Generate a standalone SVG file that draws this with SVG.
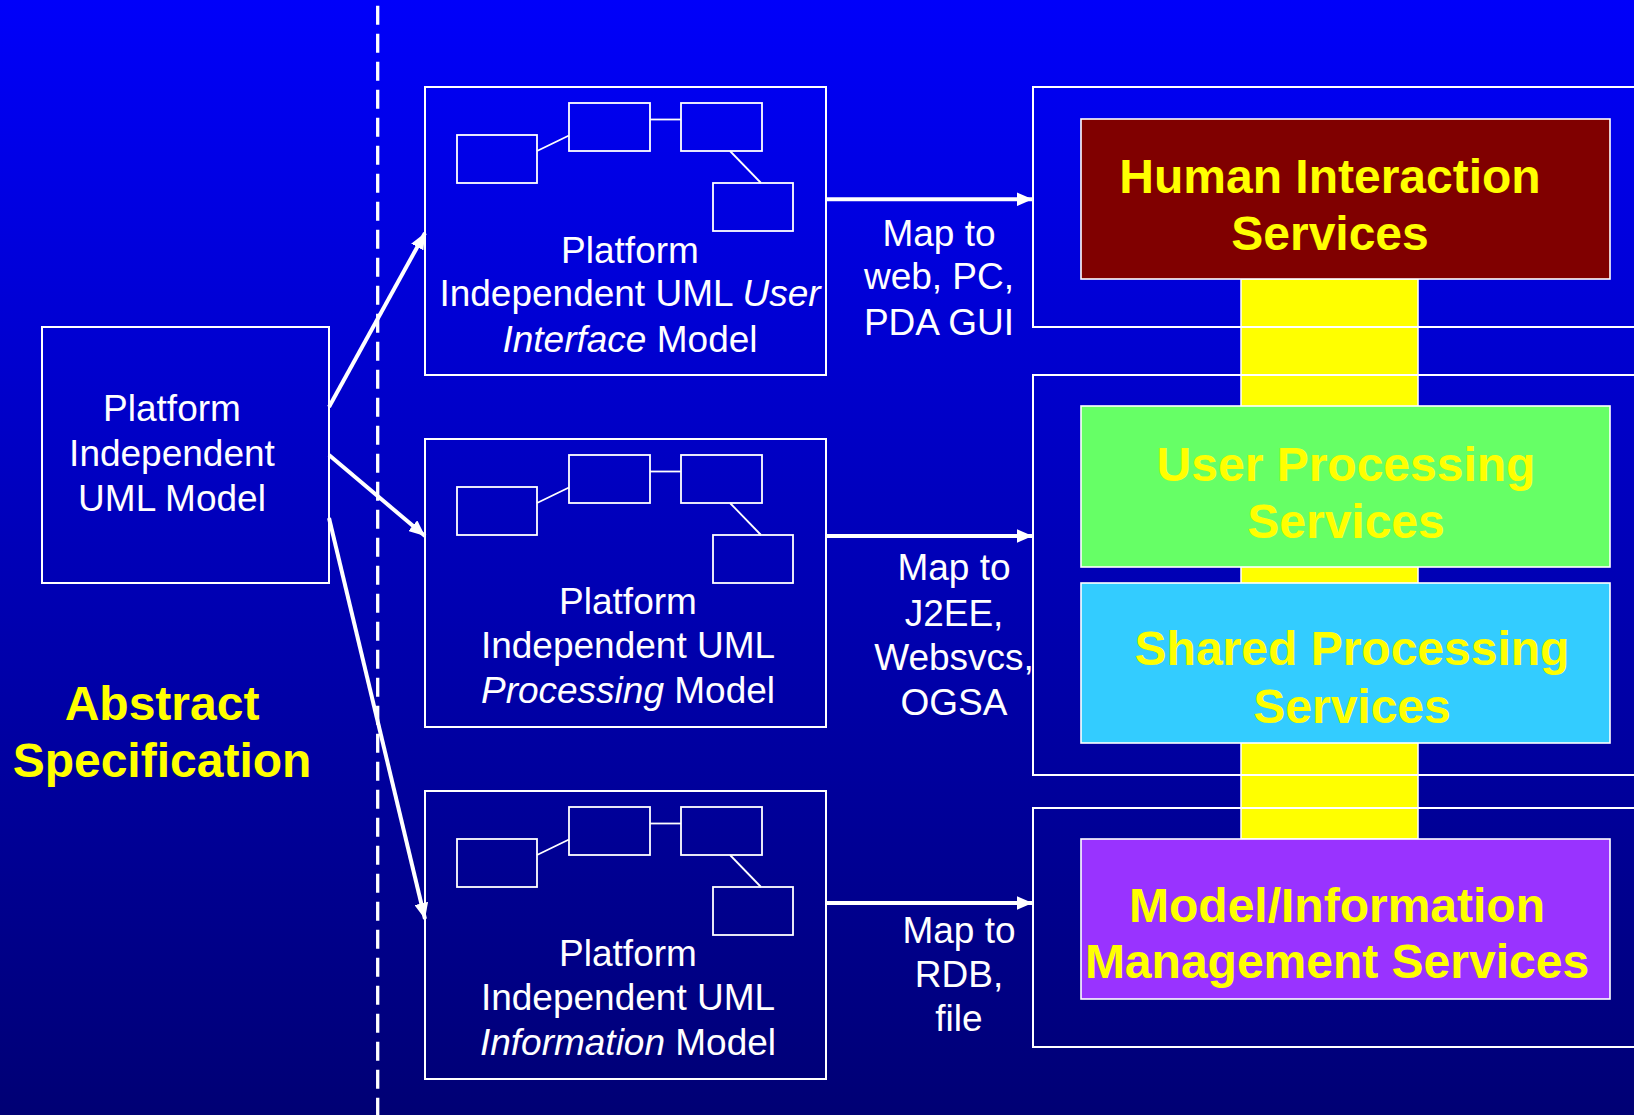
<svg xmlns="http://www.w3.org/2000/svg" xmlns:xlink="http://www.w3.org/1999/xlink" width="1634" height="1115" viewBox="0 0 1634 1115">
<defs>
<linearGradient id="bg" x1="0" y1="0" x2="0" y2="1">
<stop offset="0" stop-color="#0000FA"/>
<stop offset="1" stop-color="#000074"/>
</linearGradient>
<marker id="ah" markerUnits="userSpaceOnUse" markerWidth="16" markerHeight="14" refX="16" refY="7" orient="auto" viewBox="0 0 16 14">
<path d="M0,0 L16,7 L0,14 z" fill="#FFFFFF"/>
</marker>
<g id="mini">
<rect x="32" y="48" width="80" height="48"/>
<rect x="144" y="16" width="81" height="48"/>
<rect x="256" y="16" width="81" height="48"/>
<rect x="288" y="96" width="80" height="48"/>
<line x1="112" y1="64" x2="144" y2="48.5"/>
<line x1="225" y1="32.5" x2="256" y2="32.5"/>
<line x1="305" y1="64" x2="336" y2="96"/>
</g>
<style>
.box{fill:none;stroke:#FFFFFF;stroke-width:2}
#mini rect,#mini line{fill:none;stroke:#FFFFFF;stroke-width:1.8}
.wt{font-family:"Liberation Sans",Arial,sans-serif;font-size:37px;fill:#FFFFFF;text-anchor:middle}
.yt{font-family:"Liberation Sans",Arial,sans-serif;font-size:48px;font-weight:bold;fill:#FFFF00;text-anchor:middle}
.it{font-style:italic}
.arr{stroke:#FFFFFF;stroke-width:4;fill:none;marker-end:url(#ah)}
.svc{stroke:#FFFFFF;stroke-width:1.6}
</style>
</defs>
<rect x="0" y="0" width="1634" height="1115" fill="url(#bg)"/>
<line x1="377.7" y1="5.7" x2="377.7" y2="1115" stroke="#FFFFFF" stroke-width="3.3" stroke-dasharray="19 9"/>

<g id="yellow-bar">
<rect x="1241" y="279" width="177" height="560" fill="#FFFF00" stroke="#FFFFFF" stroke-width="1.5"/>
</g>

<g id="frame-top"><rect class="box" x="1033" y="87" width="640" height="240"/></g>
<g id="frame-mid"><rect class="box" x="1033" y="375" width="640" height="400"/></g>
<g id="frame-bot"><rect class="box" x="1033" y="808" width="640" height="239"/></g>

<g id="pim">
<rect class="box" x="42" y="327" width="287" height="256"/>
<text class="wt" x="172" y="421">Platform</text>
<text class="wt" x="172" y="466">Independent</text>
<text class="wt" x="172" y="511">UML Model</text>
</g>

<g id="abstract-spec">
<text class="yt" x="162" y="720">Abstract</text>
<text class="yt" x="162" y="776.5">Specification</text>
</g>

<g id="pim-ui">
<rect class="box" x="425" y="87" width="401" height="288"/>
<use href="#mini" xlink:href="#mini" x="425" y="87"/>
<text class="wt" x="630" y="262.5">Platform</text>
<text class="wt" x="630" y="305.5">Independent UML <tspan class="it">User</tspan></text>
<text class="wt" x="630" y="351.5"><tspan class="it">Interface</tspan> Model</text>
</g>

<g id="pim-proc">
<rect class="box" x="425" y="439" width="401" height="288"/>
<use href="#mini" xlink:href="#mini" x="425" y="439"/>
<text class="wt" x="628" y="613.5">Platform</text>
<text class="wt" x="628" y="657.5">Independent UML</text>
<text class="wt" x="628" y="703"><tspan class="it">Processing</tspan> Model</text>
</g>

<g id="pim-info">
<rect class="box" x="425" y="791" width="401" height="288"/>
<use href="#mini" xlink:href="#mini" x="425" y="791"/>
<text class="wt" x="628" y="966">Platform</text>
<text class="wt" x="628" y="1009.5">Independent UML</text>
<text class="wt" x="628" y="1055"><tspan class="it">Information</tspan> Model</text>
</g>

<g id="human-interaction">
<rect class="svc" x="1081" y="119" width="529" height="160" fill="#800000"/>
<text class="yt" x="1330" y="193">Human Interaction</text>
<text class="yt" x="1330" y="250">Services</text>
</g>

<g id="user-processing">
<rect class="svc" x="1081" y="406" width="529" height="161" fill="#66FF66"/>
<text class="yt" x="1346" y="480.5">User Processing</text>
<text class="yt" x="1346" y="537.5">Services</text>
</g>

<g id="shared-processing">
<rect class="svc" x="1081" y="583" width="529" height="160" fill="#33CCFF"/>
<text class="yt" x="1352" y="665">Shared Processing</text>
<text class="yt" x="1352" y="723">Services</text>
</g>

<g id="model-info">
<rect class="svc" x="1081" y="839" width="529" height="160" fill="#9933FF"/>
<text class="yt" x="1337" y="921.5">Model/Information</text>
<text class="yt" x="1337" y="978">Management Services</text>
</g>

<g id="connectors">
<line class="arr" x1="329" y1="407" x2="425" y2="233"/>
<line class="arr" x1="329" y1="455" x2="425" y2="536"/>
<line class="arr" x1="329" y1="518" x2="425" y2="919"/>
<line class="arr" x1="826" y1="199.3" x2="1032.5" y2="199.3"/>
<line class="arr" x1="826" y1="536" x2="1032.5" y2="536"/>
<line class="arr" x1="826" y1="903" x2="1032.5" y2="903"/>
</g>

<g id="labels">
<text class="wt" x="939" y="245.7">Map to</text>
<text class="wt" x="939" y="289.3">web, PC,</text>
<text class="wt" x="939" y="335">PDA GUI</text>
<text class="wt" x="954" y="580.3">Map to</text>
<text class="wt" x="954" y="626">J2EE,</text>
<text class="wt" x="954" y="670.2">Websvcs,</text>
<text class="wt" x="954" y="715.3">OGSA</text>
<text class="wt" x="959" y="943.4">Map to</text>
<text class="wt" x="959" y="987.4">RDB,</text>
<text class="wt" x="959" y="1031.4">file</text>
</g>
</svg>
